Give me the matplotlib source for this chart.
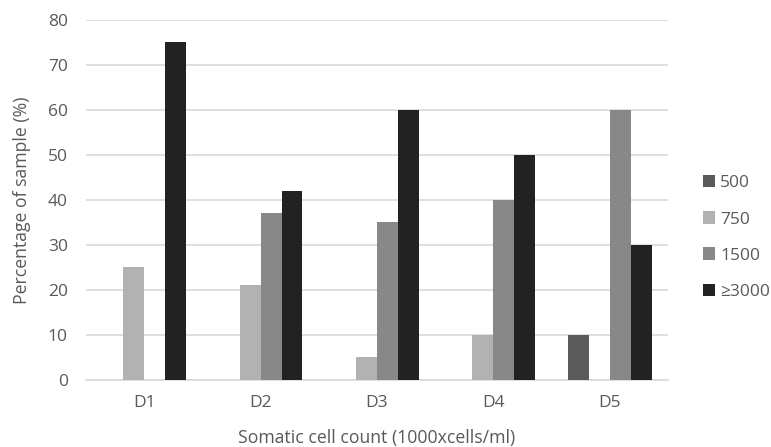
import numpy as np
import matplotlib
matplotlib.use('Agg')
import matplotlib.pyplot as plt

plt.rcParams['font.family'] = ['Open Sans', 'DejaVu Sans']

# data
groups = ['D1', 'D2', 'D3', 'D4', 'D5']
series = ['500', '750', '1500', '≥3000']
v500 = [0, 0, 0, 0, 10]
v750 = [25, 21, 5, 10, 0]
v1500 = [0, 37, 35, 40, 60]
v3000 = [75, 42, 60, 50, 30]
values = [v500, v750, v1500, v3000]
colors = ['#5a5a5a', '#b2b2b2', '#888888', '#222222']

text_col = '#595959'
grid_col = '#d9d9d9'

fig = plt.figure(figsize=(7.71, 4.47), dpi=100)
ax = fig.add_axes([0.1115, 0.1499, 0.7549, 0.8054])

x = np.arange(len(groups))
w = 0.18
for i, (name, vals) in enumerate(zip(series, values)):
    ax.bar(x + (i - 1.5) * w, vals, width=w, color=colors[i], label=name,
           zorder=3)

ax.set_xlim(-0.5, len(groups) - 0.5)
ax.set_ylim(0, 80)
ax.set_yticks(np.arange(0, 81, 10))
ax.set_xticks(x)
ax.set_xticklabels(groups)
ax.grid(axis='y', color=grid_col, linewidth=1.2, zorder=0)
for s in ['top', 'right', 'left']:
    ax.spines[s].set_visible(False)
ax.spines['bottom'].set_color(grid_col)
ax.spines['bottom'].set_linewidth(1.2)
ax.tick_params(length=0, labelsize=12.5, colors=text_col)
ax.tick_params(axis='y', pad=13)
ax.tick_params(axis='x', pad=11)

ax.set_ylabel('Percentage of sample (%)', fontsize=12.7, color=text_col,
              labelpad=12)
ax.set_xlabel('Somatic cell count (1000xcells/ml)', fontsize=12.7,
              color=text_col, labelpad=13)

leg = fig.legend(loc='center left', bbox_to_anchor=(0.9118, 0.4687),
                 frameon=False, fontsize=12.5, borderpad=0, borderaxespad=0,
                 handlelength=0.7, handleheight=0.7, handletextpad=0.3,
                 labelspacing=1.15)
for t in leg.get_texts():
    t.set_color(text_col)

plt.savefig('out.png', dpi=100)
plt.close()
